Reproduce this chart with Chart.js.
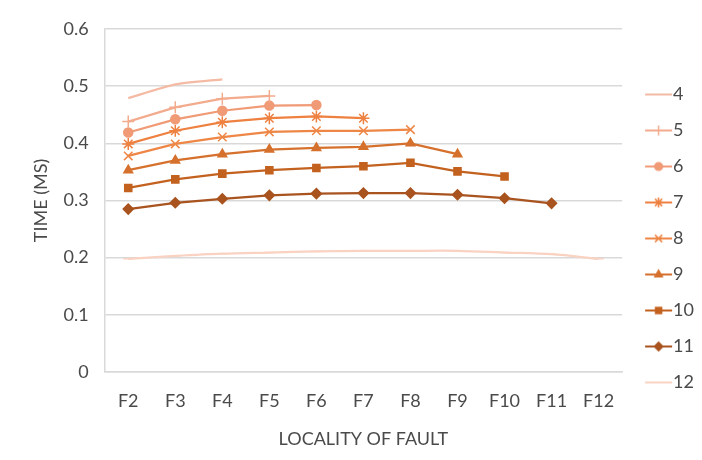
<!DOCTYPE html>
<html>
<head>
<meta charset="utf-8">
<script src="https://cdn.jsdelivr.net/npm/chart.js@4.4.1/dist/chart.umd.min.js"></script>
<style>
    html, body { margin: 0; padding: 0; background: #ffffff; }
    #wrap { width: 702px; height: 460px; }
</style>
</head>
<body>
<div id="wrap"><canvas id="chart" width="702" height="460"></canvas></div>
<script>
const CATEGORIES = ['F2', 'F3', 'F4', 'F5', 'F6', 'F7', 'F8', 'F9', 'F10', 'F11', 'F12'];
const Y_TICKS = [0, 0.1, 0.2, 0.3, 0.4, 0.5, 0.6];

const SERIES_4 = [0.479, 0.503, 0.512];
const SERIES_5 = [0.438, 0.463, 0.478, 0.483];
const SERIES_6 = [0.419, 0.442, 0.457, 0.466, 0.467];
const SERIES_7 = [0.399, 0.422, 0.437, 0.444, 0.447, 0.444];
const SERIES_8 = [0.378, 0.399, 0.411, 0.420, 0.422, 0.422, 0.424];
const SERIES_9 = [0.353, 0.370, 0.381, 0.389, 0.392, 0.394, 0.400, 0.381];
const SERIES_10 = [0.322, 0.337, 0.347, 0.353, 0.357, 0.360, 0.366, 0.351, 0.342];
const SERIES_11 = [0.285, 0.296, 0.303, 0.309, 0.312, 0.313, 0.313, 0.310, 0.304, 0.295];
const SERIES_12 = [0.198, 0.203, 0.207, 0.209, 0.211, 0.212, 0.212, 0.212, 0.209, 0.206, 0.198];

const SERIES_DEFS = [
    { label: '4', data: SERIES_4, color: '#F5BAA4', marker: false, radius: 0, tension: 0.2 },
    { label: '5', data: SERIES_5, color: '#F3AB8E', marker: 'cross', radius: 6, tension: 0 },
    { label: '6', data: SERIES_6, color: '#F09A76', marker: 'circle', radius: 4.5, tension: 0 },
    { label: '7', data: SERIES_7, color: '#EE8040', marker: 'star', radius: 6, tension: 0 },
    { label: '8', data: SERIES_8, color: '#EE8646', marker: 'crossRot', radius: 6, tension: 0 },
    { label: '9', data: SERIES_9, color: '#D5712D', marker: 'triangle', radius: 5, tension: 0 },
    { label: '10', data: SERIES_10, color: '#C3611F', marker: 'rect', radius: 5, tension: 0 },
    { label: '11', data: SERIES_11, color: '#A9531F', marker: 'rectRot', radius: 5, tension: 0 },
    { label: '12', data: SERIES_12, color: '#F9D2C2', marker: 'line', radius: 5, tension: 0.3 }
];

// legend swatch: the image is centred on the legend box, so the line sits in its right part
function makeSwatch(def) {
    const c = document.createElement('canvas');
    c.width = 44;
    c.height = 14;
    const ctx = c.getContext('2d');
    ctx.strokeStyle = def.color;
    ctx.lineWidth = 2;
    ctx.beginPath();
    ctx.moveTo(15, 7);
    ctx.lineTo(42, 7);
    ctx.stroke();
    if (def.marker && def.marker !== 'line') {
        ctx.fillStyle = def.color;
        ctx.lineWidth = 1.5;
        Chart.helpers.drawPoint(ctx, {
            pointStyle: def.marker,
            radius: def.radius * 0.85,
            borderWidth: 1.5,
            rotation: 0
        }, 28.5, 7);
        ctx.fill();
    }
    return c;
}

const datasets = SERIES_DEFS.map(def => ({
    label: def.label,
    data: def.data,
    borderColor: def.color,
    backgroundColor: def.color,
    borderWidth: 2.25,
    pointStyle: def.marker,
    pointRadius: def.radius,
    pointHoverRadius: def.radius,
    pointBorderColor: def.color,
    pointBackgroundColor: def.color,
    pointBorderWidth: 1.5,
    tension: def.tension,
    fill: false
}));

const TEXT_COLOR = '#4a4a4a';
const FONT = 'Lato, Open Sans, sans-serif';

new Chart(document.getElementById('chart'), {
    type: 'line',
    data: { labels: CATEGORIES, datasets },
    options: {
        responsive: false,
        animation: false,
        layout: { padding: { top: 29, right: -2, left: 5, bottom: 12 } },
        scales: {
            x: {
                offset: true,
                grid: { display: false, drawTicks: false },
                border: { color: '#D9D9D9', width: 1.5 },
                ticks: { color: TEXT_COLOR, font: { family: FONT, size: 18, lineHeight: 1 }, padding: 20 },
                title: {
                    display: true,
                    text: 'LOCALITY OF FAULT',
                    color: TEXT_COLOR,
                    font: { family: FONT, size: 18, lineHeight: 1 },
                    padding: { top: 0, bottom: 0 }
                }
            },
            y: {
                min: 0,
                max: 0.6,
                afterBuildTicks(axis) {
                    axis.ticks = Y_TICKS.map(v => ({ value: v }));
                },
                grid: { color: '#D9D9D9', lineWidth: 1.5, drawTicks: false },
                border: { color: '#D9D9D9', width: 1.5 },
                ticks: {
                    color: TEXT_COLOR,
                    font: { family: FONT, size: 18 },
                    padding: 16,
                    callback(value) {
                        return String(Math.round(value * 10) / 10);
                    }
                },
                title: {
                    display: true,
                    text: 'TIME (MS)',
                    color: TEXT_COLOR,
                    font: { family: FONT, size: 18 },
                    padding: { top: 25, bottom: -4 }
                }
            }
        },
        plugins: {
            tooltip: { enabled: false },
            legend: {
                position: 'right',
                align: 'center',
                labels: {
                    usePointStyle: true,
                    pointStyleWidth: 24,
                    color: TEXT_COLOR,
                    font: { family: FONT, size: 18 },
                    padding: 18,
                    generateLabels(chart) {
                        return SERIES_DEFS.map((def, index) => ({
                            text: def.label,
                            pointStyle: makeSwatch(def),
                            fillStyle: def.color,
                            strokeStyle: def.color,
                            fontColor: TEXT_COLOR,
                            datasetIndex: index,
                            hidden: false
                        }));
                    }
                }
            }
        }
    }
});
</script>
</body>
</html>
